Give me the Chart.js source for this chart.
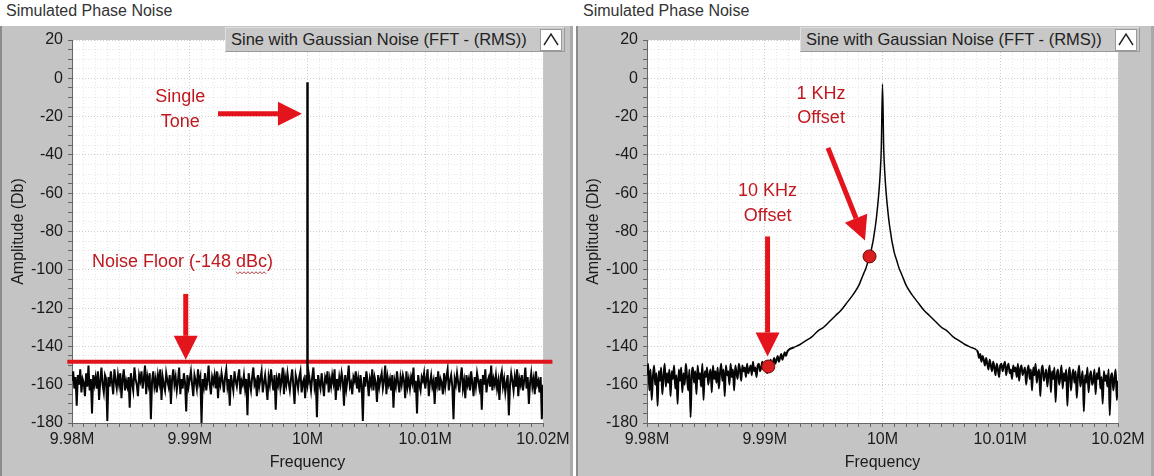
<!DOCTYPE html>
<html>
<head>
<meta charset="utf-8">
<script src="https://cdn.jsdelivr.net/npm/chart.js@4.4.1/dist/chart.umd.min.js"></script>
<style>
  html, body { margin: 0; padding: 0; background: #fff; }
  body { width: 1154px; height: 476px; position: relative; overflow: hidden; font-family: "Liberation Sans", Arial, sans-serif; }
  .title { position: absolute; top: 2px; font-size: 16px; color: #333; }
  .panel { position: absolute; top: 26px; height: 450px; background: #c4c4c4; box-sizing: border-box; border-left: 2px solid #8c8c8c; border-right: 3px solid #a9a9a9; }
  canvas { position: absolute; top: 26px; }
  .legend { position: absolute; top: 27px; width: 340px; height: 25px; box-sizing: border-box; background: #c8c8c8; border-top: 1px solid #dedede; border-left: 1px solid #dedede; border-bottom: 1px solid #9a9a9a; border-right: 1px solid #9a9a9a; font-size: 16.5px; line-height: 23px; color: #222; padding-left: 5px; white-space: nowrap; z-index: 2; }
  .legend .btn { position: absolute; right: 2px; top: 1px; width: 20px; height: 20px; background: #fff; border: 1px solid #9a9a9a; }
</style>
</head>
<body>
<div class="title" style="left:6px">Simulated Phase Noise</div>
<div class="title" style="left:583px">Simulated Phase Noise</div>
<div class="panel" style="left:0; width:573px"></div>
<div class="panel" style="left:576px; width:578px"></div>
<canvas id="leftGraph" width="570" height="450" style="left:0"></canvas>
<canvas id="rightGraph" width="570" height="450" style="left:575px"></canvas>
<div class="legend" style="left:225px">Sine with Gaussian Noise (FFT - (RMS))<span class="btn"><svg width="20" height="20"><polyline points="3,15 10,4 17,15" fill="none" stroke="#222" stroke-width="1.4"/></svg></span></div>
<div class="legend" style="left:800px">Sine with Gaussian Noise (FFT - (RMS))<span class="btn"><svg width="20" height="20"><polyline points="3,15 10,4 17,15" fill="none" stroke="#222" stroke-width="1.4"/></svg></span></div>
<script>
const FONT = '"Liberation Sans", Arial, sans-serif';

// axes
const FREQ_MIN = 9980000;
const FREQ_MAX = 10020000;
const CARRIER_HZ = 10000000;
const xTickValues = [9980000, 9990000, 10000000, 10010000, 10020000];
const xTickLabels = ['9.98M', '9.99M', '10M', '10.01M', '10.02M'];
const yTickValues = [20, 0, -20, -40, -60, -80, -100, -120, -140, -160, -180];
const yTickLabels = ['20', '0', '-20', '-40', '-60', '-80', '-100', '-120', '-140', '-160', '-180'];

// left graph: single tone over a flat noise floor
const toneLevels = [-160, -2];
const noiseFloorDb = -148;
const floorSpanHz = [9979600, 10020800];
const noiseStepHz = 100;
const leftNoise = [
  -158,-153,-162,-156,-171,-155,-160,-152,-164,-157,-159,-166,-154,-161,-150,-163,-157,-175,-155,-160,
  -156,-162,-153,-168,-158,-151,-160,-164,-155,-157,-179,-156,-161,-153,-159,-165,-152,-158,-162,-155,
  -160,-154,-167,-157,-152,-163,-158,-161,-156,-172,-154,-159,-163,-151,-157,-160,-166,-155,-158,-153,
  -162,-157,-150,-165,-156,-160,-154,-178,-158,-153,-161,-157,-164,-155,-159,-152,-168,-156,-160,-163,
  -154,-158,-161,-155,-170,-157,-152,-160,-156,-163,-158,-151,-165,-157,-162,-154,-159,-174,-155,-161,
  -157,-153,-160,-166,-155,-158,-162,-152,-159,-156,-180,-157,-161,-154,-163,-158,-150,-160,-165,-156,
  -159,-155,-162,-153,-167,-157,-160,-154,-158,-164,-156,-152,-161,-157,-171,-155,-159,-163,-153,-158,
  -161,-156,-152,-165,-158,-160,-155,-162,-157,-176,-154,-159,-163,-156,-151,-160,-158,-166,-155,-161,
  -157,-153,-164,-159,-155,-161,-168,-156,-160,-152,-158,-163,-155,-173,-157,-160,-154,-162,-158,-151,
  -165,-156,-160,-154,-159,-163,-157,-152,-161,-170,-155,-158,-162,-156,-153,-164,-159,-157,-167,-155,
  -160,-154,-158,-163,-156,-151,-161,-157,-177,-155,-159,-162,-154,-160,-166,-156,-158,-153,-164,-157,
  -161,-155,-159,-152,-168,-157,-163,-156,-160,-154,-158,-171,-155,-162,-157,-150,-161,-159,-165,-156,
  -158,-153,-162,-157,-164,-155,-160,-179,-156,-161,-153,-158,-166,-157,-160,-152,-163,-156,-159,-169,
  -155,-161,-157,-154,-162,-158,-150,-165,-156,-160,-157,-163,-155,-172,-158,-161,-153,-159,-164,-156,
  -160,-155,-158,-167,-153,-161,-157,-162,-156,-159,-151,-164,-158,-175,-155,-160,-163,-156,-158,-154,
  -162,-157,-152,-166,-159,-155,-161,-158,-170,-156,-160,-153,-163,-157,-159,-165,-154,-161,-156,-152,
  -163,-158,-155,-161,-178,-157,-160,-154,-159,-164,-156,-151,-162,-158,-167,-155,-160,-157,-163,-153,
  -159,-166,-156,-161,-154,-158,-162,-157,-173,-155,-160,-152,-164,-158,-156,-161,-150,-163,-157,-160,
  -155,-162,-158,-168,-156,-153,-161,-157,-164,-159,-155,-176,-160,-154,-158,-163,-156,-161,-152,-166,
  -157,-160,-155,-163,-158,-151,-162,-156,-170,-159,-154,-161,-157,-165,-153,-160,-158,-164,-156,-178,
  -160
];

// right graph: carrier with phase-noise skirts
const skirtStepHz = 100;
const lowerSkirtStartHz = 9980000;
const lowerSkirt = [
  -155,-149,-163,-152,-168,-156,-150,-160,-154,-171,-153,-158,-151,-165,-156,-149,-161,-154,-159,-152,
  -166,-153,-157,-150,-162,-155,-170,-152,-158,-151,-164,-154,-160,-149,-156,-163,-152,-177,-155,-151,
  -159,-153,-165,-150,-157,-154,-161,-149,-168,-153,-156,-151,-160,-155,-152,-164,-150,-157,-153,-159,
  -151,-162,-154,-149,-158,-152,-166,-150,-155,-153,-160,-149,-156,-152,-163,-150,-154,-157,-149,-152,
  -158,-150,-153,-151,-156,-149,-154,-152,-150,-155,-148,-153,-151,-156,-150,-149,-153,-151,-148,-152,
  -152,-148,-154,-149,-151,-147,-150,-148,-146,-149,-147,-145,-148,-146,-144,-147,-145,-143,-145,-143
];
const carrierOffsetsKHz = [0, 0.1, 0.2, 0.3, 0.4, 0.5, 0.6, 0.7, 0.8, 0.9, 1.0, 1.2, 1.4, 1.6, 1.8, 2.0, 2.5, 3.0, 3.5, 4.0, 4.5, 5.0, 5.5, 6.0, 6.5, 7.0, 7.5, 8.0];
const carrierLevels = [-3, -36, -50, -59, -66, -72, -77, -81, -85, -88, -91, -95, -99, -102, -105, -108, -113, -117, -121, -124, -127, -130, -132, -135, -137, -139, -140.5, -142];
const upperSkirtStartHz = 10008100;
const upperSkirt = [
  -143,-146,-144,-148,-145,-147,-150,-146,-149,-152,-147,-150,-153,-148,-151,-155,-149,-152,-156,-150,
  -149,-153,-150,-148,-155,-151,-149,-154,-152,-157,-150,-153,-151,-156,-149,-158,-152,-150,-155,-153,
  -151,-160,-153,-150,-157,-152,-163,-151,-155,-149,-159,-154,-152,-166,-153,-150,-158,-155,-152,-161,
  -154,-150,-164,-153,-157,-151,-169,-155,-152,-160,-156,-150,-162,-154,-158,-152,-171,-155,-151,-163,
  -156,-152,-159,-153,-167,-155,-150,-161,-157,-153,-174,-155,-159,-151,-164,-156,-153,-160,-158,-152,
  -165,-154,-157,-151,-162,-156,-170,-153,-158,-155,-161,-152,-176,-156,-154,-163,-157,-152,-168,-158
];
const markerFreqs = [9998900, 9990300];
const markerLevels = [-93, -150.5];

// callouts, anchored in data units
const leftNotes = [
  { text: 'Single', x: 9989200, y: -10 },
  { text: 'Tone', x: 9989200, y: -23 },
  { arrow: [9992400, -18.5, 9999530, -18.5] },
  { text: 'Noise Floor (-148 dBc)', x: 9989380, y: -95.8, squiggle: 'dBc' },
  { arrow: [9989660, -112.6, 9989660, -147] }
];
const rightNotes = [
  { text: '1 KHz', x: 9994780, y: -8.4 },
  { text: 'Offset', x: 9994780, y: -21 },
  { arrow: [9995370, -36.3, 9998510, -84.7] },
  { text: '10 KHz', x: 9990240, y: -59 },
  { text: 'Offset', x: 9990240, y: -72 },
  { arrow: [9990240, -82.6, 9990240, -145.3] }
];

const TRACE = '#050505';
const ARROW_RED = '#e3141b';
const TEXT_RED = '#c0181f';

const plotBackground = {
  id: 'plotBackground',
  beforeDraw(chart) {
    const { ctx, chartArea: a } = chart;
    ctx.save();
    ctx.fillStyle = '#ffffff';
    ctx.fillRect(a.left, a.top, a.width, a.height);
    ctx.restore();
  }
};

function drawArrow(ctx, x1, y1, x2, y2) {
  const ang = Math.atan2(y2 - y1, x2 - x1);
  const headLen = 24, headHalf = 12;
  const bx = x2 - headLen * Math.cos(ang), by = y2 - headLen * Math.sin(ang);
  ctx.strokeStyle = ARROW_RED;
  ctx.fillStyle = ARROW_RED;
  ctx.lineWidth = 5;
  ctx.beginPath();
  ctx.moveTo(x1, y1);
  ctx.lineTo(bx, by);
  ctx.stroke();
  ctx.beginPath();
  ctx.moveTo(x2, y2);
  ctx.lineTo(bx + headHalf * Math.sin(ang), by - headHalf * Math.cos(ang));
  ctx.lineTo(bx - headHalf * Math.sin(ang), by + headHalf * Math.cos(ang));
  ctx.closePath();
  ctx.fill();
}

function makeCallouts(notes) {
  return {
    id: 'callouts',
    afterDatasetsDraw(chart) {
      const { ctx, scales: { x, y } } = chart;
      ctx.save();
      ctx.font = '18px ' + FONT;
      ctx.textBaseline = 'middle';
      notes.forEach(n => {
        if (n.arrow) {
          const [fx, fy, tx, ty] = n.arrow;
          drawArrow(ctx, x.getPixelForValue(fx), y.getPixelForValue(fy), x.getPixelForValue(tx), y.getPixelForValue(ty));
          return;
        }
        const px = x.getPixelForValue(n.x), py = y.getPixelForValue(n.y);
        ctx.fillStyle = TEXT_RED;
        ctx.textAlign = 'center';
        ctx.fillText(n.text, px, py);
        if (n.squiggle) {
          const w = ctx.measureText(n.text).width;
          const idx = n.text.indexOf(n.squiggle);
          const sx = px - w / 2 + ctx.measureText(n.text.slice(0, idx)).width;
          const sw = ctx.measureText(n.squiggle).width;
          ctx.strokeStyle = '#a83a3a';
          ctx.lineWidth = 1;
          ctx.beginPath();
          for (let i = 0; i <= sw; i += 2) {
            const yy = py + 10 + (i % 4 === 0 ? 0 : 2);
            if (i === 0) ctx.moveTo(sx + i, yy); else ctx.lineTo(sx + i, yy);
          }
          ctx.stroke();
        }
      });
      ctx.restore();
    }
  };
}

function isMultiple(v, base, step) {
  const r = (v - base) / step;
  return Math.abs(r - Math.round(r)) < 1e-6;
}

function xLabel(v) {
  const i = xTickValues.findIndex(t => Math.abs(t - v) < 1);
  return i < 0 ? '' : xTickLabels[i];
}

function yLabel(v) {
  const i = yTickValues.findIndex(t => Math.abs(t - v) < 1e-6);
  return i < 0 ? '' : yTickLabels[i];
}

const axisFont = { family: FONT, size: 16 };

function makeChart(id, datasets, notes) {
  return new Chart(document.getElementById(id), {
    type: 'line',
    data: { datasets },
    options: {
      responsive: false,
      animation: false,
      events: [],
      layout: { padding: { left: 0, top: 14, right: 27, bottom: 0 } },
      plugins: { legend: { display: false }, tooltip: { enabled: false } },
      elements: { point: { radius: 0 }, line: { tension: 0 } },
      scales: {
        x: {
          type: 'linear',
          min: FREQ_MIN,
          max: FREQ_MAX,
          afterFit: s => { s.height = 53; s.paddingLeft = 0; s.paddingRight = 0; },
          ticks: {
            stepSize: 1000, maxTicksLimit: 100, autoSkip: false, maxRotation: 0, minRotation: 0,
            padding: 3, color: '#1a1a1a', font: axisFont, callback: xLabel
          },
          grid: {
            color: c => (c.tick && isMultiple(c.tick.value, FREQ_MIN, 10000)) ? '#cdcdcd' : '#e6e6e6',
            tickColor: '#666', tickLength: 4
          },
          border: { display: true, color: '#666', dash: [1, 2] },
          title: { display: true, text: 'Frequency', color: '#1a1a1a', font: axisFont, padding: { top: 2, bottom: 4 } }
        },
        y: {
          min: -180,
          max: 20,
          afterFit: s => { s.width = 72; s.paddingTop = 0; s.paddingBottom = 0; },
          ticks: {
            stepSize: 5, maxTicksLimit: 100, autoSkip: false,
            padding: 5, color: '#1a1a1a', font: axisFont, callback: yLabel
          },
          grid: {
            color: c => (c.tick && isMultiple(c.tick.value, 0, 20)) ? '#cdcdcd' : '#e6e6e6',
            tickColor: '#666', tickLength: 4
          },
          border: { display: true, color: '#666', dash: [1, 2] },
          title: { display: true, text: 'Amplitude (Db)', color: '#1a1a1a', font: axisFont, padding: { top: 9, bottom: 0 } }
        }
      }
    },
    plugins: [plotBackground, makeCallouts(notes)]
  });
}

// left graph
makeChart('leftGraph', [
  {
    data: toneLevels.map(v => ({ x: CARRIER_HZ, y: v })),
    borderColor: TRACE, borderWidth: 2.5, order: 0
  },
  {
    data: floorSpanHz.map(f => ({ x: f, y: noiseFloorDb })),
    borderColor: '#e0141b', borderWidth: 4, clip: false, order: 1
  },
  {
    data: leftNoise.map((v, i) => ({ x: FREQ_MIN + i * noiseStepHz, y: v })),
    borderColor: TRACE, borderWidth: 2, order: 2
  }
], leftNotes);

// right graph: lower skirt, carrier (mirrored about 10 MHz), upper skirt as one trace
const rightTrace = lowerSkirt.map((v, i) => ({ x: lowerSkirtStartHz + i * skirtStepHz, y: v }));
for (let i = carrierOffsetsKHz.length - 1; i > 0; i--) {
  rightTrace.push({ x: CARRIER_HZ - carrierOffsetsKHz[i] * 1000, y: carrierLevels[i] });
}
for (let i = 0; i < carrierOffsetsKHz.length; i++) {
  rightTrace.push({ x: CARRIER_HZ + carrierOffsetsKHz[i] * 1000, y: carrierLevels[i] });
}
upperSkirt.forEach((v, i) => rightTrace.push({ x: upperSkirtStartHz + i * skirtStepHz, y: v }));

const carrierEdge = carrierOffsetsKHz[carrierOffsetsKHz.length - 1] * 1000;

makeChart('rightGraph', [
  {
    type: 'scatter',
    data: markerFreqs.map((f, i) => ({ x: f, y: markerLevels[i] })),
    pointRadius: 6.5, backgroundColor: '#d81e1e', borderColor: '#6e0b0b', borderWidth: 1, order: 0
  },
  {
    data: rightTrace,
    borderColor: TRACE, borderWidth: 1.5, cubicInterpolationMode: 'monotone', order: 1,
    segment: {
      borderWidth: c => Math.abs(c.p0.parsed.x - CARRIER_HZ) < carrierEdge ? 1.5 : 2
    }
  }
], rightNotes);
</script>
</body>
</html>
